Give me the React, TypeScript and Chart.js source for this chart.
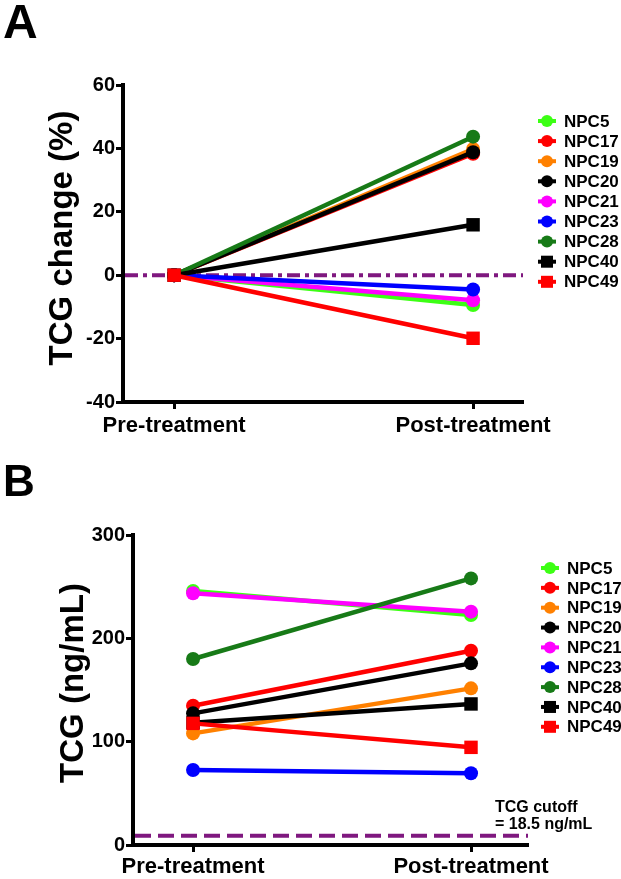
import React, { useEffect, useRef } from 'react';
import { Chart, registerables } from 'chart.js';

Chart.register(...registerables);

// ---------- data ----------
const categories = ['Pre-treatment', 'Post-treatment'];
const patients = ['NPC5', 'NPC17', 'NPC19', 'NPC20', 'NPC21', 'NPC23', 'NPC28', 'NPC40', 'NPC49'];
const seriesColors = ['#3CFF14', '#FF0000', '#FF8000', '#000000', '#FF00FF', '#0000FF', '#177A17', '#000000', '#FF0000'];
const seriesMarkers = ['circle', 'circle', 'circle', 'circle', 'circle', 'circle', 'circle', 'rect', 'rect'];

// Panel A: TCG change (%)
const changePre = [0, 0, 0, 0, 0, 0, 0, 0, 0];
const changePost = [-9.4, 38.3, 39.8, 38.8, -7.9, -4.5, 43.7, 15.9, -19.9];
const changeTicks = [-40, -20, 0, 20, 40, 60];
const changeReference = 0;

// Panel B: TCG (ng/mL)
const tcgPre = [245.8, 134.8, 108.0, 127.4, 243.6, 72.6, 180.0, 118.4, 117.7];
const tcgPost = [222.6, 188.0, 151.6, 175.8, 225.8, 69.4, 258.0, 136.5, 94.5];
const tcgTicks = [0, 100, 200, 300];
const tcgCutoffDrawn = 9;
const cutoffLines = ['TCG cutoff', '= 18.5 ng/mL'];

const FONT = '"Liberation Sans", Arial, Helvetica, sans-serif';
const PURPLE = '#7F187F';

type PanelOpts = {
  letter: string;
  letterSize: number;
  letterBaseline: number;
  yTitle: string;
  yTitleX: number;
  yTitleY: number;
  pre: number[];
  post: number[];
  ticks: number[];
  refValue: number;
  refDash: number[];
  area: { left: number; right: number; top: number; bottom: number };
  width: number;
  height: number;
  xMin: number;
  xMax: number;
  xLabelPad: number;
  legendTop: number;
  legendStep: number;
  legendMarkerX: number;
  legendTextX: number;
  extraText?: { lines: string[]; x: number; baselines: number[] };
};

function buildConfig(o: PanelOpts): any {
  const datasets = patients.map((name, i) => ({
    label: name,
    data: [
      { x: 0, y: o.pre[i] },
      { x: 1, y: o.post[i] },
    ],
    borderColor: seriesColors[i],
    backgroundColor: seriesColors[i],
    pointBackgroundColor: seriesColors[i],
    pointBorderColor: seriesColors[i],
    pointBorderWidth: 0,
    pointStyle: seriesMarkers[i],
    pointRadius: seriesMarkers[i] === 'rect' ? 9.5 : 7,
    borderWidth: 4.5,
    tension: 0,
    showLine: true,
    clip: false,
    order: patients.length - i,
  }));

  const panelPlugin = {
    id: 'panelDecor' + o.letter,
    beforeDatasetsDraw(chart: any) {
      const { ctx, chartArea } = chart;
      const y = chart.scales.y.getPixelForValue(o.refValue);
      ctx.save();
      ctx.strokeStyle = PURPLE;
      ctx.lineWidth = 4;
      ctx.setLineDash(o.refDash);
      ctx.beginPath();
      ctx.moveTo(chartArea.left + 2, y);
      ctx.lineTo(chartArea.right, y);
      ctx.stroke();
      ctx.restore();
    },
    afterDraw(chart: any) {
      const { ctx } = chart;
      ctx.save();
      // panel letter
      ctx.fillStyle = '#000';
      ctx.font = `bold ${o.letterSize}px ${FONT}`;
      ctx.textAlign = 'left';
      ctx.textBaseline = 'alphabetic';
      ctx.fillText(o.letter, 3, o.letterBaseline);
      // y title
      ctx.save();
      ctx.translate(o.yTitleX, o.yTitleY);
      ctx.rotate(-Math.PI / 2);
      ctx.font = `bold 33px ${FONT}`;
      ctx.textAlign = 'center';
      ctx.textBaseline = 'middle';
      ctx.fillText(o.yTitle, 0, 0);
      ctx.restore();
      // legend
      patients.forEach((name, i) => {
        const cy = o.legendTop + i * o.legendStep;
        const cx = o.legendMarkerX;
        const c = seriesColors[i];
        ctx.strokeStyle = c;
        ctx.fillStyle = c;
        ctx.lineWidth = 4;
        ctx.setLineDash([]);
        ctx.beginPath();
        ctx.moveTo(cx - 9, cy);
        ctx.lineTo(cx + 9, cy);
        ctx.stroke();
        if (seriesMarkers[i] === 'rect') {
          ctx.fillRect(cx - 6, cy - 6, 12, 12);
        } else {
          ctx.beginPath();
          ctx.arc(cx, cy, 6, 0, Math.PI * 2);
          ctx.fill();
        }
        ctx.fillStyle = '#000';
        ctx.font = `bold 17px ${FONT}`;
        ctx.textAlign = 'left';
        ctx.textBaseline = 'middle';
        ctx.fillText(name, o.legendTextX, cy + 1);
      });
      // extra annotation
      if (o.extraText) {
        ctx.fillStyle = '#000';
        ctx.font = `bold 16px ${FONT}`;
        ctx.textAlign = 'left';
        ctx.textBaseline = 'alphabetic';
        o.extraText.lines.forEach((t, k) => {
          ctx.fillText(t, o.extraText!.x, o.extraText!.baselines[k]);
        });
      }
      ctx.restore();
    },
  };

  const tickFont = { family: FONT, size: 20, weight: 'bold' as const };
  const catFont = { family: FONT, size: 22, weight: 'bold' as const };

  return {
    type: 'line',
    data: { datasets },
    options: {
      animation: false,
      responsive: false,
      events: [],
      layout: {
        padding: {
          left: 0,
          top: o.area.top,
          right: o.width - o.area.right,
          bottom: 0,
        },
      },
      plugins: {
        legend: { display: false },
        tooltip: { enabled: false },
        title: { display: false },
      },
      scales: {
        x: {
          type: 'linear',
          min: o.xMin,
          max: o.xMax,
          afterBuildTicks: (scale: any) => {
            scale.ticks = categories.map((_, i) => ({ value: i }));
          },
          afterFit: (scale: any) => {
            scale.height = o.height - o.area.bottom;
          },
          grid: {
            drawOnChartArea: false,
            drawTicks: true,
            tickLength: 7,
            tickWidth: 3,
            tickColor: '#000',
          },
          border: { display: true, color: '#000', width: 4 },
          ticks: {
            autoSkip: false,
            maxRotation: 0,
            minRotation: 0,
            padding: o.xLabelPad,
            color: '#000',
            font: catFont,
            callback: (value: number) => categories[Math.round(value)] ?? '',
          },
        },
        y: {
          type: 'linear',
          min: o.ticks[0],
          max: o.ticks[o.ticks.length - 1],
          afterBuildTicks: (scale: any) => {
            scale.ticks = o.ticks.map((v) => ({ value: v }));
          },
          afterFit: (scale: any) => {
            scale.width = o.area.left;
          },
          grid: {
            drawOnChartArea: false,
            drawTicks: true,
            tickLength: 7,
            tickWidth: 3,
            tickColor: '#000',
          },
          border: { display: true, color: '#000', width: 4 },
          ticks: {
            padding: 1,
            color: '#000',
            font: tickFont,
          },
        },
      },
    },
    plugins: [panelPlugin],
  };
}

export default function App() {
  const refA = useRef<HTMLCanvasElement>(null);
  const refB = useRef<HTMLCanvasElement>(null);

  useEffect(() => {
    const optsA: PanelOpts = {
      letter: 'A',
      letterSize: 48,
      letterBaseline: 38,
      yTitle: 'TCG change (%)',
      yTitleX: 63,
      yTitleY: 238,
      pre: changePre,
      post: changePost,
      ticks: changeTicks,
      refValue: changeReference,
      refDash: [13, 5, 4, 5],
      area: { left: 123, right: 523, top: 85, bottom: 402 },
      width: 621,
      height: 440,
      xMin: -0.171,
      xMax: 1.167,
      xLabelPad: 4,
      legendTop: 121,
      legendStep: 20.1,
      legendMarkerX: 547,
      legendTextX: 564,
    };
    const optsB: PanelOpts = {
      letter: 'B',
      letterSize: 44,
      letterBaseline: 56,
      yTitle: 'TCG (ng/mL)',
      yTitleX: 74,
      yTitleY: 243,
      pre: tcgPre,
      post: tcgPost,
      ticks: tcgTicks,
      refValue: tcgCutoffDrawn,
      refDash: [16, 7],
      area: { left: 133, right: 528, top: 95, bottom: 405 },
      width: 621,
      height: 439,
      xMin: -0.216,
      xMax: 1.205,
      xLabelPad: 2,
      legendTop: 128,
      legendStep: 19.85,
      legendMarkerX: 550,
      legendTextX: 567,
      extraText: { lines: cutoffLines, x: 495, baselines: [372, 389] },
    };
    const chartA = new Chart(refA.current!, buildConfig(optsA));
    const chartB = new Chart(refB.current!, buildConfig(optsB));
    return () => {
      chartA.destroy();
      chartB.destroy();
    };
  }, []);

  return (
    <div style={{ position: 'absolute', left: 0, top: 0, width: 621, height: 879, background: '#fff' }}>
      <canvas ref={refA} width={621} height={440} style={{ position: 'absolute', left: 0, top: 0, width: 621, height: 440 }} />
      <canvas ref={refB} width={621} height={439} style={{ position: 'absolute', left: 0, top: 440, width: 621, height: 439 }} />
    </div>
  );
}
